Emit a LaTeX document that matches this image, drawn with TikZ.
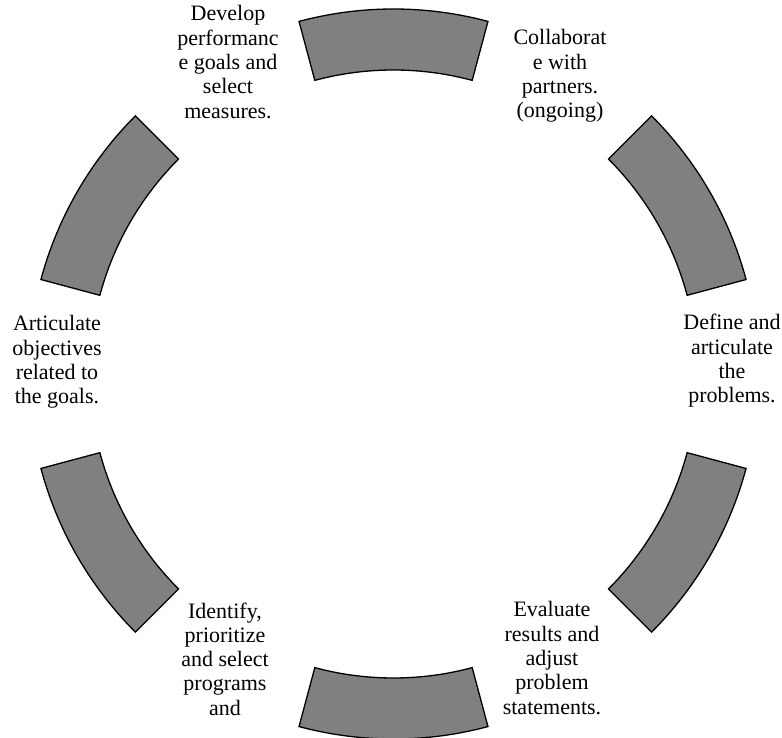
\documentclass[tikz,border=0pt]{standalone}
\usepackage{fontspec}
\setmainfont{Liberation Serif}

\begin{document}
\begin{tikzpicture}[segment/.style={draw=black, fill=black!50, line width=1.3pt, line join=miter},
  steptext/.style={align=center, inner sep=0pt, font=\fontsize{22}{24.3}\selectfont}]
    \useasboundingbox (-393.5pt,-364pt) rectangle (388.5pt,374pt);

    % ring segments
    \draw[segment] (75:304pt) arc[start angle=75, end angle=105, radius=304pt] -- (105:365pt) arc[start angle=105, end angle=75, radius=365pt] -- cycle;
    \draw[segment] (15:304pt) arc[start angle=15, end angle=45, radius=304pt] -- (45:365pt) arc[start angle=45, end angle=15, radius=365pt] -- cycle;
    \draw[segment] (-45:304pt) arc[start angle=-45, end angle=-15, radius=304pt] -- (-15:365pt) arc[start angle=-15, end angle=-45, radius=365pt] -- cycle;
    \draw[segment] (-105:304pt) arc[start angle=-105, end angle=-75, radius=304pt] -- (-75:365pt) arc[start angle=-75, end angle=-105, radius=365pt] -- cycle;
    \draw[segment] (-165:304pt) arc[start angle=-165, end angle=-135, radius=304pt] -- (-135:365pt) arc[start angle=-135, end angle=-165, radius=365pt] -- cycle;
    \draw[segment] (135:304pt) arc[start angle=135, end angle=165, radius=304pt] -- (165:365pt) arc[start angle=165, end angle=135, radius=365pt] -- cycle;

    \node[steptext] (collab) at (166.5pt,298pt) {Collaborat\\e with\\partners.\\(ongoing)};
    \node[steptext] (define) at (338.5pt,13pt) {Define and\\articulate\\the\\problems.};
    \node[steptext] (evaluate) at (158.5pt,-284pt) {Evaluate\\results and\\adjust\\problem\\statements.};
    \node[steptext] (identify) at (-168.5pt,-285pt) {Identify,\\prioritize\\and select\\programs\\and};
    \node[steptext] (articulate) at (-336.5pt,12pt) {Articulate\\objectives\\related to\\the goals.};
    \node[steptext] (develop) at (-165.5pt,312pt) {Develop\\performanc\\e goals and\\select\\measures.};

\end{tikzpicture}
\end{document}
